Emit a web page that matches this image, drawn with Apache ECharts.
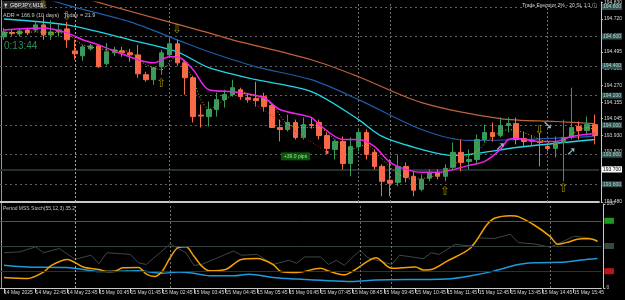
<!DOCTYPE html>
<html>
<head>
<meta charset="utf-8">
<script src="https://cdn.jsdelivr.net/npm/echarts@6/dist/echarts.min.js"></script>
<style>html,body{margin:0;padding:0;background:#000}#chart{width:625px;height:300px}</style>
</head>
<body>
<div id="chart"></div>
<script>
/* GBPJPY M15 chart with MAs and stochastic */
var times = ['14 May 21:45','14 May 22:00','14 May 22:15','14 May 22:30','14 May 22:45','14 May 23:00','14 May 23:15','14 May 23:30','14 May 23:45',
  '15 May 00:00','15 May 00:15','15 May 00:30','15 May 00:45','15 May 01:00','15 May 01:15','15 May 01:30','15 May 01:45',
  '15 May 02:00','15 May 02:15','15 May 02:30','15 May 02:45','15 May 03:00','15 May 03:15','15 May 03:30','15 May 03:45',
  '15 May 04:00','15 May 04:15','15 May 04:30','15 May 04:45','15 May 05:00','15 May 05:15','15 May 05:30','15 May 05:45',
  '15 May 06:00','15 May 06:15','15 May 06:30','15 May 06:45','15 May 07:00','15 May 07:15','15 May 07:30','15 May 07:45',
  '15 May 08:00','15 May 08:15','15 May 08:30','15 May 08:45','15 May 09:00','15 May 09:15','15 May 09:30','15 May 09:45',
  '15 May 10:00','15 May 10:15','15 May 10:30','15 May 10:45','15 May 11:00','15 May 11:15','15 May 11:30','15 May 11:45',
  '15 May 12:00','15 May 12:15','15 May 12:30','15 May 12:45','15 May 13:00','15 May 13:15','15 May 13:30','15 May 13:45',
  '15 May 14:00','15 May 14:15','15 May 14:30','15 May 14:45','15 May 15:00','15 May 15:15','15 May 15:30','15 May 15:45',
  '15 May 16:00','15 May 16:15','15 May 16:30'];
var firstLabel = '14 May 2025';

// [open, close, low, high]
var candles = [
  [194.598,194.631,194.578,194.658],[194.628,194.620,194.605,194.645],[194.617,194.638,194.600,194.650],[194.645,194.625,194.610,194.660],
  [194.645,194.679,194.630,194.700],[194.679,194.611,194.578,194.746],[194.611,194.631,194.578,194.712],[194.631,194.645,194.600,194.680],
  [194.652,194.578,194.524,194.700],[194.503,194.483,194.443,194.578],[194.470,194.530,194.436,194.544],[194.517,194.537,194.505,194.550],
  [194.537,194.395,194.389,194.544],[194.416,194.497,194.405,194.557],[194.490,194.510,194.470,194.530],[194.503,194.490,194.463,194.530],
  [194.490,194.476,194.429,194.517],[194.476,194.348,194.321,194.544],[194.342,194.308,194.294,194.362],[194.308,194.389,194.274,194.395],
  [194.395,194.490,194.342,194.510],[194.476,194.551,194.456,194.598],[194.551,194.422,194.402,194.578],[194.422,194.321,194.207,194.443],
  [194.321,194.058,194.018,194.335],[194.068,194.062,193.984,194.139],[194.058,194.106,193.991,194.160],[194.106,194.173,194.058,194.220],
  [194.173,194.207,194.119,194.240],[194.207,194.254,194.193,194.308],[194.240,194.193,194.173,194.254],[194.186,194.173,194.153,194.213],
  [194.180,194.166,194.126,194.294],[194.193,194.126,194.092,194.220],[194.133,193.984,193.984,194.146],[193.984,193.971,193.890,194.038],
  [193.971,194.018,193.957,194.072],[194.018,193.917,193.903,194.038],[193.917,194.004,193.903,194.052],[194.004,193.998,193.977,194.052],
  [194.018,193.930,193.903,194.038],[193.930,193.843,193.816,193.950],[193.836,193.890,193.768,193.903],[193.890,193.741,193.701,193.924],
  [193.741,193.856,193.654,193.917],[193.856,193.950,193.823,193.977],[193.950,193.802,193.768,193.971],[193.816,193.721,193.701,193.836],
  [193.721,193.620,193.519,193.735],[193.627,193.607,193.519,193.768],[193.613,193.721,193.587,193.802],[193.721,193.647,193.613,193.748],
  [193.654,193.560,193.519,193.688],[193.566,193.634,193.553,193.667],[193.641,193.681,193.620,193.701],[193.681,193.654,193.634,193.701],
  [193.654,193.708,193.620,193.735],[193.715,193.816,193.701,193.883],[193.816,193.748,193.688,193.903],[193.755,193.768,193.701,193.836],
  [193.768,193.903,193.735,193.937],[193.903,193.950,193.883,194.004],[193.950,193.924,193.890,194.018],[193.930,193.998,193.917,194.052],
  [193.998,194.011,193.950,194.052],[194.011,193.903,193.870,194.052],[193.910,193.890,193.850,193.957],[193.890,193.897,193.863,193.930],
  [193.890,193.883,193.721,193.950],[193.856,193.843,193.823,193.877],[193.843,193.883,193.782,193.924],[193.883,193.917,193.620,194.038],
  [193.917,193.984,193.903,194.254],[193.991,193.964,193.903,194.025],[193.964,194.004,193.930,194.058],[194.004,193.930,193.870,194.072]
];

// moving averages, [bar, price]
var maBrown = [[0,195.036],[11,194.847],[26,194.625],[29,194.578],[39,194.443],[45,194.328],[53,194.153],[63,194.045],[70,194.025],[75,194.011]];
var maBlue = [[0,194.948],[8,194.813],[16,194.699],[22,194.578],[26,194.497],[32,194.395],[39,194.308],[45,194.173],[53,193.971],[59,193.897],[66,193.903],[75,193.924]];
var maCyan = [[0,194.719],[8,194.679],[16,194.578],[22,194.497],[26,194.389],[32,194.308],[39,194.227],[45,194.038],[48,193.924],[53,193.836],[57,193.795],[65,193.849],[75,193.903]];
var maMagenta = [[0,194.645],[5,194.658],[8,194.625],[10,194.578],[12,194.544],[17,194.443],[19,194.422],[21,194.463],[22,194.463],[24,194.375],
  [26,194.240],[29,194.227],[30,194.220],[33,194.186],[35,194.106],[39,194.052],[40,194.004],[43,193.903],[45,193.903],[47,193.856],[49,193.748],
  [51,193.701],[53,193.681],[55,193.681],[59,193.728],[61,193.755],[63,193.836],[64,193.903],[65,193.910],[68,193.890],[70,193.890],[72,193.924],[75,193.944]];
var maFast = [[0,194.625],[4,194.631],[8,194.618],[10,194.544],[13,194.510],[16,194.497],[18,194.409],[20,194.375],[22,194.476],[24,194.308],[25,194.173],
  [26,194.106],[28,194.173],[30,194.227],[32,194.193],[34,194.139],[36,194.004],[38,193.984],[40,193.984],[42,193.903],[44,193.836],[46,193.870],
  [48,193.768],[50,193.667],[52,193.634],[54,193.647],[56,193.688],[58,193.768],[60,193.822],[62,193.924],[64,193.971],[66,193.950],[68,193.903],
  [70,193.870],[72,193.937],[74,193.984],[75,193.971]];

var roundLevels = [194.800, 194.600, 194.400, 194.200, 194.000, 193.800, 193.600];
var priceLine = 193.700;
var priceTicks = [194.830, 194.720, 194.605, 194.495, 194.385, 194.270, 194.155, 194.045, 193.930, 193.820, 193.705, 193.595, 193.480];
var sessionBars = [9, 21, 45, 49, 69];

var trade = [[30,194.207],[41,193.816]];
var tradeLabel = [[37,193.789]];
var upArrows = [[20,194.281],[56,193.546],[71,193.566]];
var downArrows = [[5,194.813],[8,194.733],[22,194.645],[68,193.964]];
var blueDown = [[69,193.998]];
var blueUp = [[63,193.856],[72,193.816]];

// stochastic, [bar, value]
var stochMain = [[0,12.6],[3,11.4],[5,19],[6,27],[8,34],[10,25],[12,22],[13,19.6],[14,20],[15,24],[17,24.5],[18,16.5],[19,13.7],[20,20],
  [21,36],[22,48],[23,49],[24,38],[25,26],[26,20.4],[28,22],[30,34],[32,35],[34,28],[35,19.6],[37,18.4],[40,23.5],[41,20.4],[43,15.7],[44,19.6],
  [46,32],[47,36],[49,23.5],[52,25],[53,21.5],[54,22],[56,32],[59,48],[61,75],[62,83],[64,86],[65,85],[67,75],[69,61.5],[70,52],[71,54],
  [73,58.5],[74,58.5],[75,55.7]];
var stochSignal = [[0,27],[3,25],[8,24.3],[10,22],[12,19.6],[17,20.4],[20,17.6],[22,19],[24,17.6],[26,14.5],[29,14.5],[31,16.5],[34,12.6],
  [37,10.6],[41,8.6],[44,7.8],[47,9.4],[53,10.2],[56,10.6],[59,14.5],[62,20.4],[65,28],[67,30],[71,31],[73,33.3],[75,35]];
var stochGray = [[0,42],[2,43],[4,49],[5,42],[7,47],[9,34],[11,39],[12,29],[13,42],[16,40],[17,30],[18,28],[21,52.5],[23,42],[24,27],[25,28],
  [26,32],[28,40],[29,44],[30,39],[32,40],[34,28],[36,33],[37,29.4],[38,37],[40,37],[41,28],[42,33],[43,27],[45,44.7],[46,36],[49,28],[50,39],
  [53,35],[54,42],[55,40],[57,52],[59,50],[60,59.6],[62,59],[64,64],[65,54],[67,52.5],[69,48.6],[70,52.5],[72,61.5],[74,59.6],[75,55]];
var stochLevels = [80, 50, 20];
var stochTicks = [0, 100];

var FONT = 'Liberation Sans, Arial, sans-serif';
var AXC = '#c8c8c8';
function tickShown(i) { return i === 0 || i % 4 === 0; }

function arrowSeries(data, glyph, color, size) {
  return {
    type: 'scatter', xAxisIndex: 0, yAxisIndex: 0, data: data, symbolSize: 1,
    itemStyle: { color: 'rgba(0,0,0,0)' }, silent: true, z: 6,
    label: { show: true, position: 'inside', formatter: glyph, color: color, fontSize: size, fontFamily: 'DejaVu Sans' }
  };
}
function sessionMarks(color0, color1) {
  return sessionBars.map(function (b, k) {
    return { xAxis: times[b], label: { show: false },
      lineStyle: { color: k === 0 ? color0 : color1, type: [2, 2], width: 1 } };
  });
}

var levelColors = { 80: '#1f9a1f', 50: '#384848', 20: '#c01414' };
var levelLines = { 80: '#1a7a1a', 50: '#334040', 20: '#a00000' };

var option = {
  backgroundColor: '#000000',
  animation: false,
  grid: [
    { left: -2.8, width: 604.2, top: 2, height: 200 },
    { left: -2.8, width: 604.2, top: 204, height: 84 }
  ],
  xAxis: [
    { type: 'category', gridIndex: 0, data: times, boundaryGap: true,
      axisLine: { show: true, onZero: false, lineStyle: { color: AXC, width: 2 } },
      axisTick: { show: false }, axisLabel: { show: false }, splitLine: { show: false } },
    { type: 'category', gridIndex: 1, data: times, boundaryGap: true,
      axisLine: { show: true, onZero: false, lineStyle: { color: AXC } },
      axisTick: { show: true, interval: tickShown, alignWithLabel: true, length: 5, lineStyle: { color: AXC } },
      axisLabel: { interval: tickShown, align: 'left', margin: 2, fontSize: 5, color: '#d8d8d8', fontFamily: FONT,
        formatter: function (v, i) { return i === 0 ? firstLabel : v; } },
      splitLine: { show: false } }
  ],
  yAxis: [
    { type: 'value', gridIndex: 0, position: 'right', offset: 2, min: 193.480, max: 194.834,
      axisLine: { show: true, lineStyle: { color: AXC } },
      axisTick: { show: true, length: 2, customValues: priceTicks, lineStyle: { color: AXC } },
      axisLabel: { customValues: priceTicks, fontSize: 5, color: '#d8d8d8', margin: 3, fontFamily: FONT,
        formatter: function (v) { return v.toFixed(3); } },
      splitLine: { show: false } },
    { type: 'value', gridIndex: 1, position: 'right', offset: 2, min: 0, max: 100,
      axisLine: { show: true, lineStyle: { color: AXC } },
      axisTick: { show: true, length: 2, customValues: stochTicks, lineStyle: { color: AXC } },
      axisLabel: { customValues: stochTicks, fontSize: 5, color: '#d8d8d8', margin: 3, fontFamily: FONT },
      splitLine: { show: false } }
  ],
  graphic: [
    { type: 'rect', left: 1, top: 0, shape: { width: 1, height: 288 }, style: { fill: '#9a9a9a' }, silent: true },
    { type: 'rect', left: 2, top: 1, shape: { width: 44, height: 8 }, style: { fill: '#2a2a2a' }, silent: true },
    { type: 'text', left: 3, top: 2, style: { text: '\u25BC GBPJPY,M15', fill: '#e8e8e8', font: '5.5px ' + FONT } },
    { type: 'text', left: 3, top: 12, style: { text: 'ADR = 166.9 (10 days)   Today = 21.9', fill: '#c8c8c8', font: '5.5px ' + FONT } },
    { type: 'text', left: 4, top: 41, style: { text: '0:13:44', fill: '#2e8b57', font: '10px ' + FONT } },
    { type: 'text', right: 28, top: 3, style: { text: 'Trade Executor 2% - 20 SL 1:1 \u24D8', fill: '#d8d8d8', font: '5px ' + FONT } },
    { type: 'text', left: 3, top: 206, style: { text: 'Period MSS Stoch(55,12,3) 35.2', fill: '#c8c8c8', font: '5px ' + FONT } }
  ],
  series: [
    { type: 'candlestick', name: 'GBPJPY', xAxisIndex: 0, yAxisIndex: 0, data: candles, barWidth: 5, z: 3,
      itemStyle: { color: '#3a9a5c', color0: '#f8694a', borderColor: '#3a9a5c', borderColor0: '#f8694a', borderWidth: 1 },
      markLine: { silent: true, symbol: 'none', animation: false, z: 1,
        data: roundLevels.map(function (v) {
          return { yAxis: v, lineStyle: { color: '#626262', type: [2, 3], width: 1 },
            label: { show: true, position: 'end', distance: 3, formatter: v.toFixed(3), fontSize: 5, fontFamily: FONT,
              color: '#b8d0d0', backgroundColor: '#2f5252', padding: [1, 1, 0, 1] } };
        }).concat([{ yAxis: priceLine, lineStyle: { color: '#24302f', type: 'solid', width: 2 },
            label: { show: true, position: 'end', distance: 3, formatter: priceLine.toFixed(3), fontSize: 5, fontFamily: FONT,
              color: '#000', backgroundColor: '#ffffff', padding: [1, 1, 0, 1] } }])
          .concat(sessionMarks('#a8a8a8', '#707070'))
      } },
    { type: 'line', name: 'MA brown', data: maBrown, smooth: 0.3, symbol: 'none', z: 2,
      lineStyle: { color: '#c0623a', width: 1.2 } },
    { type: 'line', name: 'MA blue', data: maBlue, smooth: 0.3, symbol: 'none', z: 2,
      lineStyle: { color: '#1f5cab', width: 1.2 } },
    { type: 'line', name: 'MA cyan', data: maCyan, smooth: 0.3, symbol: 'none', z: 2,
      lineStyle: { color: '#22d6e6', width: 1.3 } },
    { type: 'line', name: 'MA magenta', data: maMagenta, smooth: 0.3, symbol: 'none', z: 4,
      lineStyle: { color: '#f020f0', width: 1.5 } },
    { type: 'line', name: 'MA fast', data: maFast, smooth: 0.2, symbol: 'none', z: 4,
      lineStyle: { color: '#c8b000', width: 1, type: [1, 2] } },
    { type: 'line', name: 'trade', data: trade, symbol: 'rect', symbolSize: 3, z: 5,
      itemStyle: { color: '#ff6060' }, lineStyle: { color: '#d01010', width: 1, type: [1, 2] } },
    { type: 'scatter', name: 'pips', data: tradeLabel, symbolSize: 1, itemStyle: { color: 'rgba(0,0,0,0)' }, z: 6, silent: true,
      label: { show: true, position: 'inside', formatter: '+39.0 pips', fontSize: 5, fontFamily: FONT,
        color: '#c8f8c8', backgroundColor: '#0b6b0b', padding: [2, 3, 1, 3] } },
    arrowSeries(upArrows, '\u21E7', '#c8b000', 12),
    arrowSeries(downArrows, '\u21E9', '#c8b000', 12),
    arrowSeries(blueDown, '\u2798', '#b8e4f8', 12),
    arrowSeries(blueUp, '\u279A', '#b8e4f8', 12),

    { type: 'line', name: 'Stoch gray', xAxisIndex: 1, yAxisIndex: 1, data: stochGray, symbol: 'none',
      lineStyle: { color: '#3c4848', width: 1 },
      markLine: { silent: true, symbol: 'none',
        data: stochLevels.map(function (v) {
          return { yAxis: v, lineStyle: { color: levelLines[v], type: 'solid', width: 1 },
            label: { show: true, position: 'end', distance: 3, formatter: String(v), fontSize: 5, fontFamily: FONT,
              color: levelColors[v], backgroundColor: levelColors[v], padding: [1, 2, 0, 2] } };
        }).concat(sessionMarks('#a8a8a8', '#707070'))
      } },
    { type: 'line', name: 'Stoch signal', xAxisIndex: 1, yAxisIndex: 1, data: stochSignal, smooth: 0.3, symbol: 'none',
      lineStyle: { color: '#1b9ae0', width: 1.5 } },
    { type: 'line', name: 'Stoch main', xAxisIndex: 1, yAxisIndex: 1, data: stochMain, smooth: 0.3, symbol: 'none',
      lineStyle: { color: '#f5a000', width: 1.5 } }
  ]
};

var chart = echarts.init(document.getElementById('chart'));
chart.setOption(option);
</script>
</body>
</html>
